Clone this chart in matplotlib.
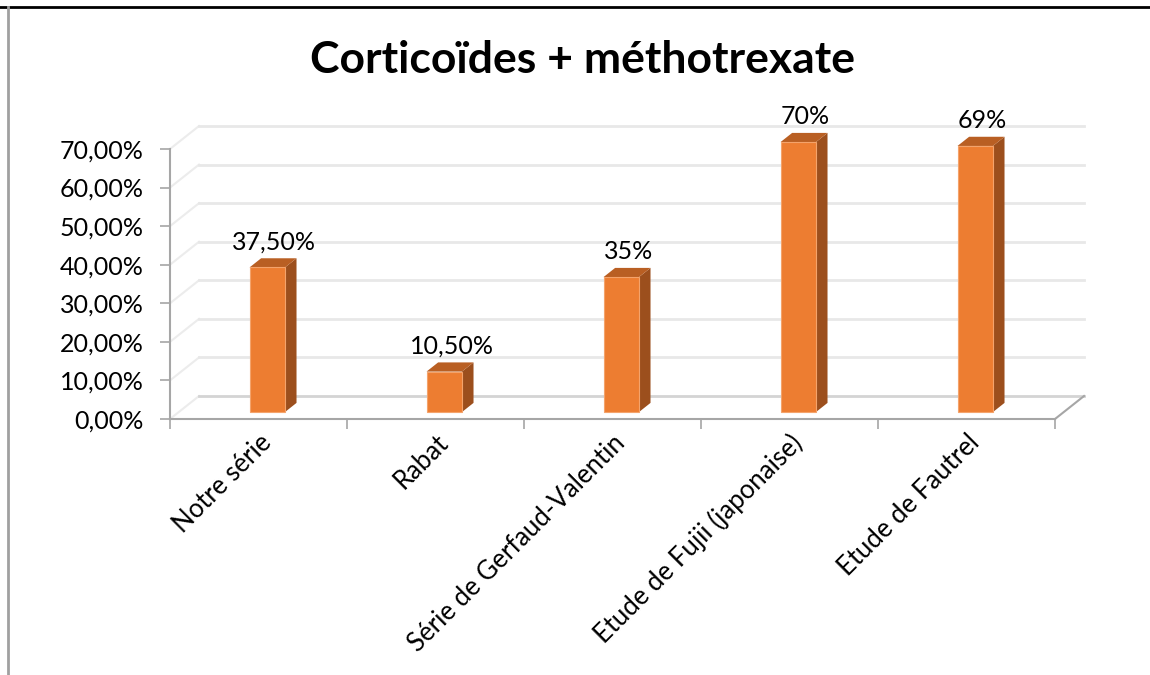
import matplotlib
matplotlib.use("Agg")
import matplotlib.pyplot as plt
from matplotlib.lines import Line2D
from matplotlib.ticker import FuncFormatter
import numpy as np

plt.rcParams['font.family'] = ['Lato', 'DejaVu Sans']

categories = ["Notre série", "Rabat", "Série de Gerfaud-Valentin",
              "Etude de Fujii (japonaise)", "Etude de Fautrel"]
values = [37.5, 10.5, 35.0, 70.0, 69.0]
value_labels = ["37,50%", "10,50%", "35%", "70%", "69%"]
y_ticks = [0, 10, 20, 30, 40, 50, 60, 70]

W, H = 1150, 675
fig = plt.figure(figsize=(W / 100, H / 100), dpi=100)
# axes box = front plane of the 3d box (pixels measured from top-left)
x_left, x_right, y_top, y_bot = 170, 1055, 149, 419
ax = fig.add_axes([x_left / W, 1 - y_bot / H, (x_right - x_left) / W, (y_bot - y_top) / H])
ax.set_xlim(0, len(categories))
ax.set_ylim(0, 70)

# oblique depth vector, data units
dx, dy = 0.164, 5.96
n = len(categories)

# back wall gridlines + side wall diagonals
for v in y_ticks:
    ax.plot([0, dx], [v, v + dy], color='#ececec', lw=1.5, clip_on=False, zorder=1)
    ax.plot([dx, n + dx], [v + dy, v + dy],
            color='#d4d4d4' if v == 0 else '#e8e8e8', lw=2, clip_on=False, zorder=1)
# floor right edge
ax.plot([n, n + dx], [0, dy], color='#a6a6a6', lw=1.5, clip_on=False, zorder=1)

# 3d columns
front_c, side_c, top_c = '#ED7D31', '#9C4F1D', '#B95F23'
d0, d1 = 0.3, 0.7
half = 0.1
for i, v in enumerate(values):
    xa = i + 0.5 - half + d0 * dx
    xb = i + 0.5 + half + d0 * dx
    ya = d0 * dy
    ox, oy = (d1 - d0) * dx, (d1 - d0) * dy
    ax.fill([xb, xb + ox, xb + ox, xb], [ya, ya + oy, ya + v + oy, ya + v],
            color=side_c, lw=0, clip_on=False, zorder=3)
    ax.fill([xa, xb, xb + ox, xa + ox], [ya + v, ya + v, ya + v + oy, ya + v + oy],
            color=top_c, lw=0, clip_on=False, zorder=3)
    ax.fill([xa, xb, xb, xa], [ya, ya, ya + v, ya + v],
            facecolor=front_c, edgecolor='#F4A36B', lw=0.8, clip_on=False, zorder=4)
    ax.text(i + 0.5 + 0.55 * dx, v + 8.4, value_labels[i], ha='center', va='center',
            fontsize=18, color='black', zorder=5, clip_on=False)

# axes styling
for s in ['top', 'right']:
    ax.spines[s].set_visible(False)
for s in ['left', 'bottom']:
    ax.spines[s].set_color('#a6a6a6')
    ax.spines[s].set_linewidth(1.5)
ax.set_facecolor('none')

ax.set_yticks(y_ticks)
ax.yaxis.set_major_formatter(FuncFormatter(lambda v, p: f"{v:.2f}%".replace('.', ',')))
ax.tick_params(axis='y', length=7, width=1.2, color='#a6a6a6', labelsize=18, pad=12)

ax.set_xticks(np.arange(n + 1))
ax.set_xticklabels([])
ax.tick_params(axis='x', which='major', length=7, width=1.2, color='#a6a6a6')
ax.set_xticks(np.arange(n) + 0.5, minor=True)
ax.set_xticklabels(categories, minor=True, rotation=45, ha='right', va='top',
                   rotation_mode='anchor', fontsize=18.5)
ax.tick_params(axis='x', which='minor', length=0, pad=8)

fig.text(583 / W, 1 - 60 / H, "Corticoïdes + méthotrexate", ha='center', va='center',
         fontsize=32, fontweight='bold')

# outer frame pieces
fig.add_artist(Line2D([0, 1], [1 - 6.5 / H] * 2, transform=fig.transFigure,
                      color='black', lw=2))
fig.add_artist(Line2D([7.5 / W] * 2, [0, 1 - 7 / H], transform=fig.transFigure,
                      color='#a0a0a0', lw=2))

fig.savefig("out.png", dpi=100)
